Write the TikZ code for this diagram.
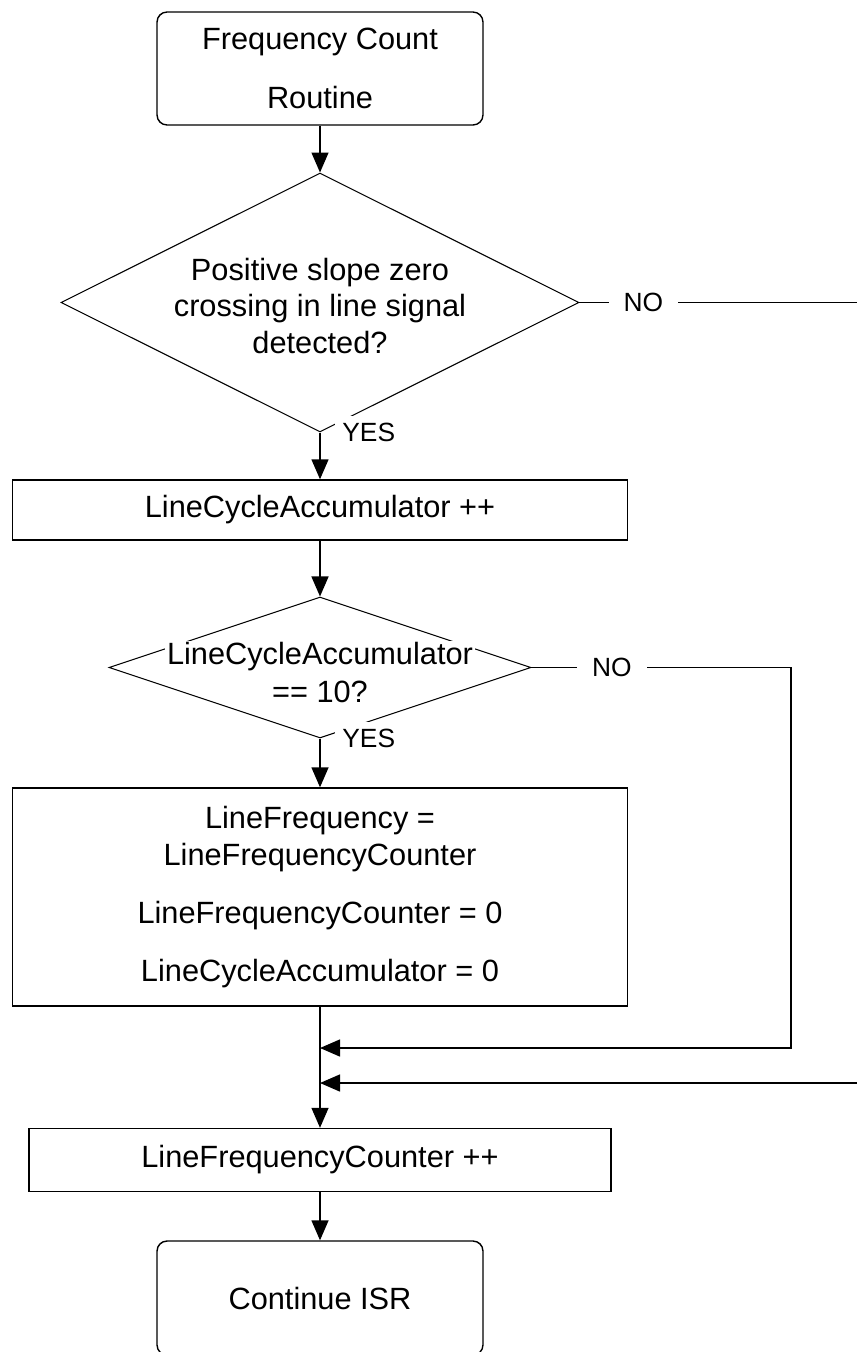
\documentclass[tikz,border=0pt]{standalone}
\usepackage{fontspec}
\setmainfont{Liberation Sans}
\usetikzlibrary{shapes.geometric, arrows.meta}

\begin{document}
\begin{tikzpicture}[x=0.02cm, y=-0.02cm,
    txt/.style={font=\fontsize{17.5}{21}\selectfont, align=center},
    procbox/.style={draw, line width=0.8pt, inner sep=0pt, txt},
    termbox/.style={procbox, rounded corners=0.2cm, minimum width=6.52cm},
    decision/.style={diamond, draw, line width=0.6pt, inner sep=0pt},
    answer/.style={fill=white, inner sep=4pt, font=\fontsize{15}{18}\selectfont},
    flow/.style={line width=0.8pt, -{Triangle[length=0.4cm, width=0.34cm]}}]
  \useasboundingbox (0,0) rectangle (857,1352);

  % start and end of the routine
  \node[termbox, minimum height=2.26cm] (start) at (320,68.5) {Frequency Count\\[13pt]Routine};
  \node[termbox, minimum height=2.28cm] (stop) at (320,1298) {Continue ISR};

  % zero crossing test
  \node[decision, minimum width=10.36cm, minimum height=5.18cm] (q1) at (320,302.5) {};
  \node[txt] (q1txt) at (320,306) {Positive slope zero\\crossing in line signal\\detected?};

  % line cycle test
  \node[decision, minimum width=8.44cm, minimum height=2.82cm] (q2) at (320,667.5) {};
  \node[txt, fill=white, inner sep=1pt] (q2txt) at (320,657) {LineCycleAccumulator};
  \node[txt, inner sep=1pt] (q2txtb) at (320,692) {== 10?};

  % process boxes
  \node[procbox, minimum width=12.3cm, minimum height=1.2cm] (act1) at (320,510) {LineCycleAccumulator ++};
  \node[procbox, minimum width=12.3cm, minimum height=4.36cm] (act2) at (320,897)
    {LineFrequency =\\LineFrequencyCounter\\[12pt]LineFrequencyCounter = 0\\[12pt]LineCycleAccumulator = 0};
  \node[procbox, minimum width=11.64cm, minimum height=1.26cm] (act3) at (320,1160) {LineFrequencyCounter ++};

  % merge points and off-page ends
  \coordinate (join1) at (320,1048);
  \coordinate (join2) at (320,1083);
  \coordinate (turn2) at (791,667.5);
  \coordinate (out1) at (857,302.5);
  \coordinate (in1) at (857,1083);

  % main flow
  \draw[flow] (start) -- (q1);
  \draw[flow] (q1) -- (act1);
  \draw[flow] (act1) -- (q2);
  \draw[flow] (q2) -- (act2);
  \draw[flow] (act2) -- (act3);
  \draw[flow] (act3) -- (stop);

  \node[answer, anchor=west] (yes1) at ([xshift=0.3cm]q1.south) {YES};
  \node[answer, anchor=west] (yes2) at ([xshift=0.3cm]q2.south) {YES};

  % NO branches
  \draw[line width=0.8pt] (q1.east) -- node[answer, pos=0.23, inner xsep=0.3cm] (no1) {NO} (out1);
  \draw[flow] (in1) -- (join2);
  \draw[flow] (q2.east) -- node[answer, pos=0.31, inner xsep=0.3cm] (no2) {NO} (turn2) |- (join1);
\end{tikzpicture}
\end{document}
